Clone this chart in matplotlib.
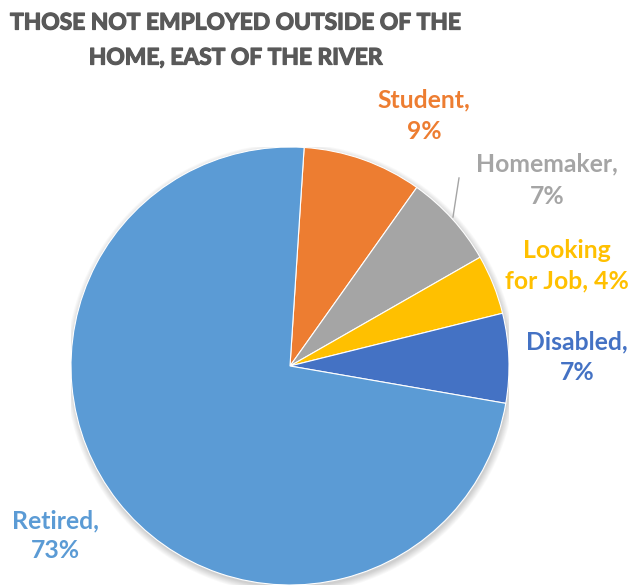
import matplotlib
matplotlib.use("Agg")
import matplotlib.pyplot as plt
import matplotlib.patheffects as pe
from matplotlib.patches import Circle

categories = ["Student", "Homemaker", "Looking for Job", "Disabled", "Retired"]
values = [8.8, 6.9, 4.4, 6.6, 73.3]
pct_labels = ["9%", "7%", "4%", "7%", "73%"]
colors = ["#ED7D31", "#A5A5A5", "#FFC000", "#4472C4", "#5B9BD5"]

W, H = 642, 587
fig = plt.figure(figsize=(W / 100, H / 100), dpi=100)
FONT = "Lato"

cx, cy, r = 290, 366, 219
ax = fig.add_axes([(cx - r) / W, (H - cy - r) / H, 2 * r / W, 2 * r / H])

# soft shadow
for k in range(8):
    ax.add_patch(Circle((0.005, -0.012), 1 + 0.004 * k, color="black",
                        alpha=0.025, lw=0, zorder=0))

wedges, _ = ax.pie(values, colors=colors, startangle=86.3, counterclock=False,
                   radius=1, wedgeprops=dict(edgecolor="white", linewidth=0.8))
for w in wedges:
    w.set_zorder(2)
    w.set_clip_on(False)
ax.set_xlim(-1, 1)
ax.set_ylim(-1, 1)
ax.set_aspect("equal")
ax.axis("off")

def ftext(x, y, s, color, size=17.8, stroke=0.0):
    t = fig.text(x / W, 1 - y / H, s, ha="center", va="center", color=color,
                 fontsize=size, fontweight="bold", family=FONT)
    if stroke:
        t.set_path_effects([pe.withStroke(linewidth=stroke, foreground=color)])

# title
ftext(236, 23, "THOSE NOT EMPLOYED OUTSIDE OF THE", "#595959", 16.4, 0.9)
ftext(236, 58, "HOME, EAST OF THE RIVER", "#595959", 16.4, 0.9)

# labels
ftext(424, 100, f"{categories[0]},", colors[0])
ftext(424, 131, pct_labels[0], colors[0])
ftext(547, 164, f"{categories[1]},", colors[1])
ftext(547, 197, pct_labels[1], colors[1])
ftext(567, 251, "Looking", colors[2])
ftext(567, 281, f"for Job, {pct_labels[2]}", colors[2])
ftext(577, 342, f"{categories[3]},", colors[3])
ftext(577, 373, pct_labels[3], colors[3])
ftext(55, 521, f"{categories[4]},", colors[4])
ftext(55, 551, pct_labels[4], colors[4])

# leader line for Homemaker
fig.add_artist(plt.Line2D([459 / W, 453 / W], [1 - 178 / H, 1 - 217 / H],
                          color="#A5A5A5", lw=1))

fig.savefig("out.png", dpi=100, facecolor="white")
